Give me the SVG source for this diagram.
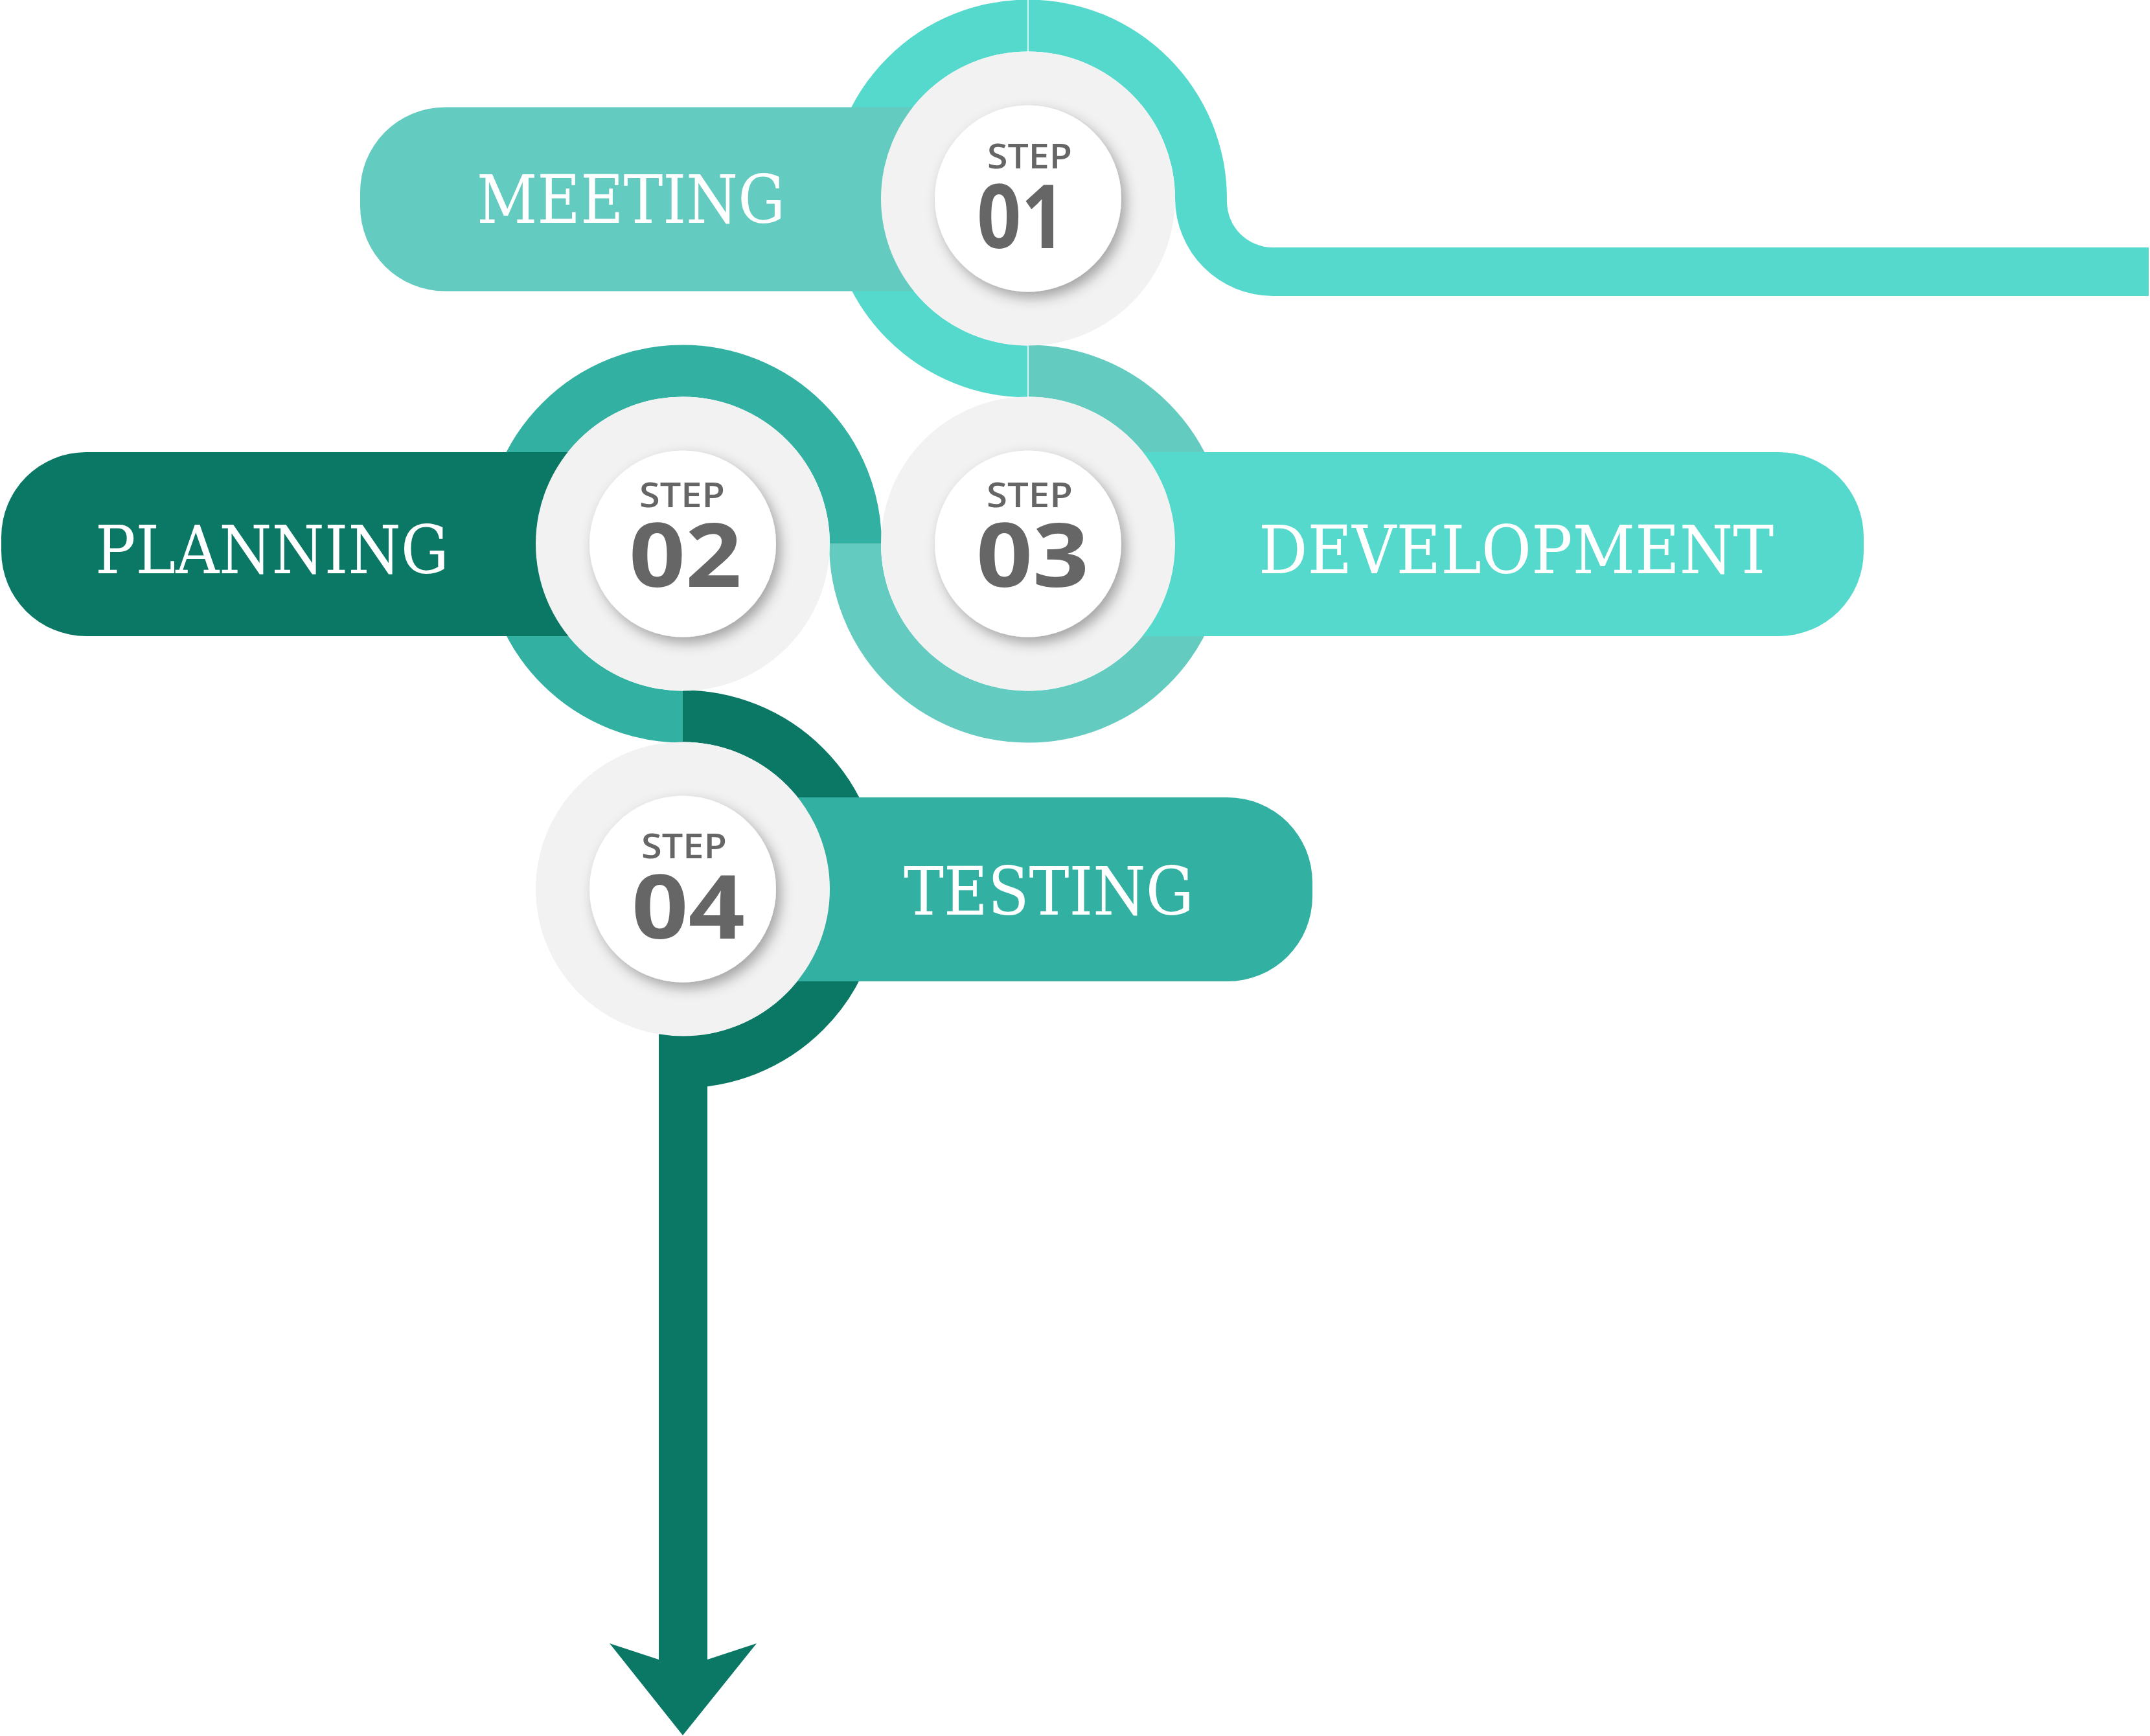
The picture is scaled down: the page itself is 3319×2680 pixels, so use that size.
<svg xmlns="http://www.w3.org/2000/svg" width="3319" height="2680" viewBox="0 0 3319 2680">
<style>
.ring{fill:none;stroke-width:80;stroke-linecap:butt}
.grey{fill:#F2F2F2}
.white{fill:#FFFFFF;filter:url(#sh)}
.label{font-family:"DejaVu Serif","Liberation Serif",serif;font-size:103px;fill:#FFFFFF}
.step{font-family:"Open Sans","Liberation Sans",sans-serif;font-size:52px;font-weight:600;fill:#666666}
.num{font-family:"Open Sans","Liberation Sans",sans-serif;font-size:136px;font-weight:700;fill:#666666}
.seam{stroke:#FFFFFF;stroke-width:1.5}
</style>
<defs>
<filter id="sh" x="-30%" y="-30%" width="160%" height="160%">
<feDropShadow dx="7" dy="9" stdDeviation="10" flood-color="#000000" flood-opacity="0.33"/>
</filter>
</defs>
<rect width="3319" height="2680" fill="#FFFFFF"/>
<g id="connectors">
<path class="ring" stroke="#55D9CC" d="M1587 39.5 A267 267 0 0 0 1587 573.5"/>
<path fill="#55D9CC" d="M1587 -0.5 A307 307 0 0 1 1894 306.5 L1894 311 A71 71 0 0 0 1965 382 L3317 382 L3317 457 L1965 457 A151 151 0 0 1 1814 306 L1814 306.5 A227 227 0 0 0 1587 79.5 Z"/>
<path class="ring" stroke="#63CBBF" d="M1587 572.5 A267 267 0 0 1 1854 839.5 A267 267 0 0 1 1587 1106.5 A267 267 0 0 1 1320 839.5"/>
<path class="ring" stroke="#32B1A3" d="M1321 839.5 A267 267 0 0 0 1054 572.5 A267 267 0 0 0 787 839.5 A267 267 0 0 0 1054 1106.5"/>
<path class="ring" stroke="#0B7866" d="M1054 1105.5 A267 267 0 0 1 1321 1372.5 A267 267 0 0 1 1054 1639.5"/>
<path fill="#0B7866" d="M1017 1500 L1092 1500 L1092 2562 L1168 2537 L1054 2679 L941 2537 L1017 2562 Z"/>
<line class="seam" x1="1587" y1="0" x2="1587" y2="80"/>
<line class="seam" x1="1587" y1="533" x2="1587" y2="613"/>
</g>
<g id="step1">
<path fill="#63CBBF" d="M1600 165.5 H687 A131 131 0 0 0 556 296.5 V318.5 A131 131 0 0 0 687 449.5 H1600 Z"/>
<circle class="grey" cx="1587" cy="306.5" r="227"/>
<circle class="white" cx="1587" cy="306.5" r="144"/>
<text class="step" x="1524" y="260" textLength="131" lengthAdjust="spacingAndGlyphs">STEP</text>
<text class="num" x="1508" y="383" textLength="137" lengthAdjust="spacingAndGlyphs">01</text>
<text class="label" x="736" y="344" textLength="476" lengthAdjust="spacingAndGlyphs">MEETING</text>
</g>
<g id="step2">
<path fill="#0B7866" d="M1054 698 H133 A131 131 0 0 0 2 829 V851 A131 131 0 0 0 133 982 H1054 Z"/>
<circle class="grey" cx="1054" cy="839.5" r="227"/>
<circle class="white" cx="1054" cy="839.5" r="144"/>
<text class="step" x="987" y="782.6" textLength="132" lengthAdjust="spacingAndGlyphs">STEP</text>
<text class="num" x="971" y="906" textLength="174" lengthAdjust="spacingAndGlyphs">02</text>
<text class="label" x="147" y="885" textLength="546" lengthAdjust="spacingAndGlyphs">PLANNING</text>
</g>
<g id="step3">
<path fill="#55D9CC" d="M1587 698 H2746 A131 131 0 0 1 2877 829 V851 A131 131 0 0 1 2746 982 H1587 Z"/>
<circle class="grey" cx="1587" cy="839.5" r="227"/>
<circle class="white" cx="1587" cy="839.5" r="144"/>
<text class="step" x="1523" y="782.6" textLength="133" lengthAdjust="spacingAndGlyphs">STEP</text>
<text class="num" x="1507" y="906" textLength="174" lengthAdjust="spacingAndGlyphs">03</text>
<text class="label" x="1943" y="885" textLength="795" lengthAdjust="spacingAndGlyphs">DEVELOPMENT</text>
</g>
<g id="step4">
<path fill="#32B1A3" d="M1054 1231 H1895 A131 131 0 0 1 2026 1362 V1384 A131 131 0 0 1 1895 1515 H1054 Z"/>
<circle class="grey" cx="1054" cy="1372.5" r="227"/>
<circle class="white" cx="1054" cy="1372.5" r="144"/>
<text class="step" x="990" y="1325.4" textLength="132" lengthAdjust="spacingAndGlyphs">STEP</text>
<text class="num" x="975" y="1448.7" textLength="175" lengthAdjust="spacingAndGlyphs">04</text>
<text class="label" x="1395" y="1412" textLength="448" lengthAdjust="spacingAndGlyphs">TESTING</text>
</g>
</svg>
